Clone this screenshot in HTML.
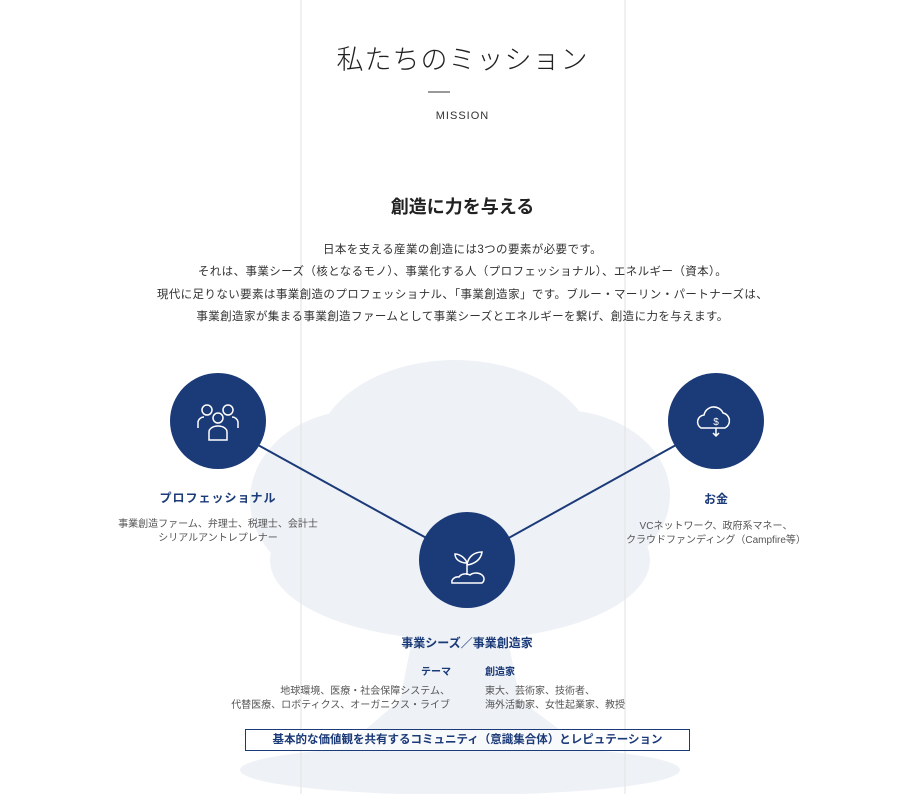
<!DOCTYPE html>
<html><head><meta charset="utf-8"><style>
body{margin:0;width:901px;height:794px;background:#fff;position:relative;overflow:hidden;font-family:"Liberation Sans","Noto Sans CJK JP",sans-serif;color:#333}
.a{position:absolute;white-space:nowrap}
.c{text-align:center}
.n{color:#1b3a78}
</style></head><body>
<svg class="a" style="left:0;top:0" width="901" height="794">
<g fill="#eef1f6">
<ellipse cx="455" cy="455" rx="140" ry="95"/>
<ellipse cx="360" cy="500" rx="110" ry="90"/>
<ellipse cx="560" cy="495" rx="110" ry="85"/>
<ellipse cx="460" cy="560" rx="190" ry="80"/>
<path d="M420 600 L400 700 L330 760 L600 760 L520 700 L500 600Z"/>
<ellipse cx="460" cy="770" rx="220" ry="25"/>
</g>
<line x1="301" y1="0" x2="301" y2="794" stroke="#e2e2e2"/>
<line x1="625" y1="0" x2="625" y2="794" stroke="#e2e2e2"/>
<line x1="428" y1="92" x2="450" y2="92" stroke="#333"/>
<line x1="258" y1="445" x2="430" y2="540" stroke="#1b3a78" stroke-width="2"/>
<line x1="676" y1="445" x2="505" y2="540" stroke="#1b3a78" stroke-width="2"/>
<circle cx="218" cy="421" r="48" fill="#1b3a78"/>
<circle cx="716" cy="421" r="48" fill="#1b3a78"/>
<circle cx="467" cy="560" r="48" fill="#1b3a78"/>
<g fill="none" stroke="#fff" stroke-width="1.5">
<circle cx="207" cy="410" r="5"/><circle cx="228" cy="410" r="5"/><circle cx="218" cy="418" r="5"/>
<path d="M198 428v-6a6 6 0 0 1 6-5M238 428v-6a6 6 0 0 0-6-5M209 440v-8a9 6 0 0 1 18 0v8z"/>
<path d="M701 428a7 7 0 0 1 3-13a10 10 0 0 1 19-2a8 8 0 0 1 2 15z"/>
<path d="M716 428v8M713 433l3 3 3-3"/>
<path d="M452 583h30a8 6 0 0 0-12-8a7 5 0 0 0-11 2a6 5 0 0 0-7 6z"/>
<path d="M467 575v-12M467 563c-2-6-8-9-12-9c0 6 6 9 12 9zM467 565c1-9 8-13 15-13c-1 8-8 12-15 13z"/>
</g>
<text x="716" y="425" fill="#fff" font-size="10" text-anchor="middle" font-family="Liberation Sans">$</text>
</svg>
<div class="a c" style="left:0;width:925px;top:38px;font-size:27px;font-weight:300;color:#222;letter-spacing:1px">私たちのミッション</div>
<div class="a c" style="left:0;width:925px;top:110px;font-size:11px;letter-spacing:1px;color:#333">MISSION</div>
<div class="a c" style="left:0;width:925px;top:193px;font-size:18px;font-weight:bold;color:#222">創造に力を与える</div>
<div class="a c" style="left:0;width:925px;top:239px;font-size:11.5px;line-height:22.3px;color:#333;letter-spacing:0.4px">日本を支える産業の創造には3つの要素が必要です。<br>それは、事業シーズ（核となるモノ）、事業化する人（プロフェッショナル）、エネルギー（資本）。<br>現代に足りない要素は事業創造のプロフェッショナル、「事業創造家」です。ブルー・マーリン・パートナーズは、<br>事業創造家が集まる事業創造ファームとして事業シーズとエネルギーを繋げ、創造に力を与えます。</div>
<div class="a c n" style="left:118px;width:200px;top:489px;font-size:12px;font-weight:bold;letter-spacing:1px">プロフェッショナル</div>
<div class="a c" style="left:98px;width:240px;top:518px;font-size:10px;line-height:14px;color:#555">事業創造ファーム、弁理士、税理士、会計士<br>シリアルアントレプレナー</div>
<div class="a c n" style="left:616px;width:200px;top:490px;font-size:12px;font-weight:bold">お金</div>
<div class="a c" style="left:596px;width:240px;top:520px;font-size:10px;line-height:14px;color:#555">VCネットワーク、政府系マネー、<br>クラウドファンディング（Campfire等）</div>
<div class="a c n" style="left:367px;width:200px;top:634px;font-size:12px;font-weight:bold">事業シーズ／事業創造家</div>
<div class="a n" style="left:421px;top:663px;font-size:10px;font-weight:bold">テーマ</div>
<div class="a n" style="left:485px;top:663px;font-size:10px;font-weight:bold">創造家</div>
<div class="a" style="right:451px;top:685px;font-size:10px;line-height:14px;color:#555;text-align:right">地球環境、医療・社会保障システム、<br>代替医療、ロボティクス、オーガニクス・ライブ</div>
<div class="a" style="left:485px;top:685px;font-size:10px;line-height:14px;color:#555">東大、芸術家、技術者、<br>海外活動家、女性起業家、教授</div>
<div class="a c n" style="left:245px;width:443px;height:20px;top:729px;border:1px solid #1b3a78;font-size:11.5px;line-height:20px;font-weight:bold;background:rgba(255,255,255,.6)">基本的な価値観を共有するコミュニティ（意識集合体）とレピュテーション</div>
</body></html>
